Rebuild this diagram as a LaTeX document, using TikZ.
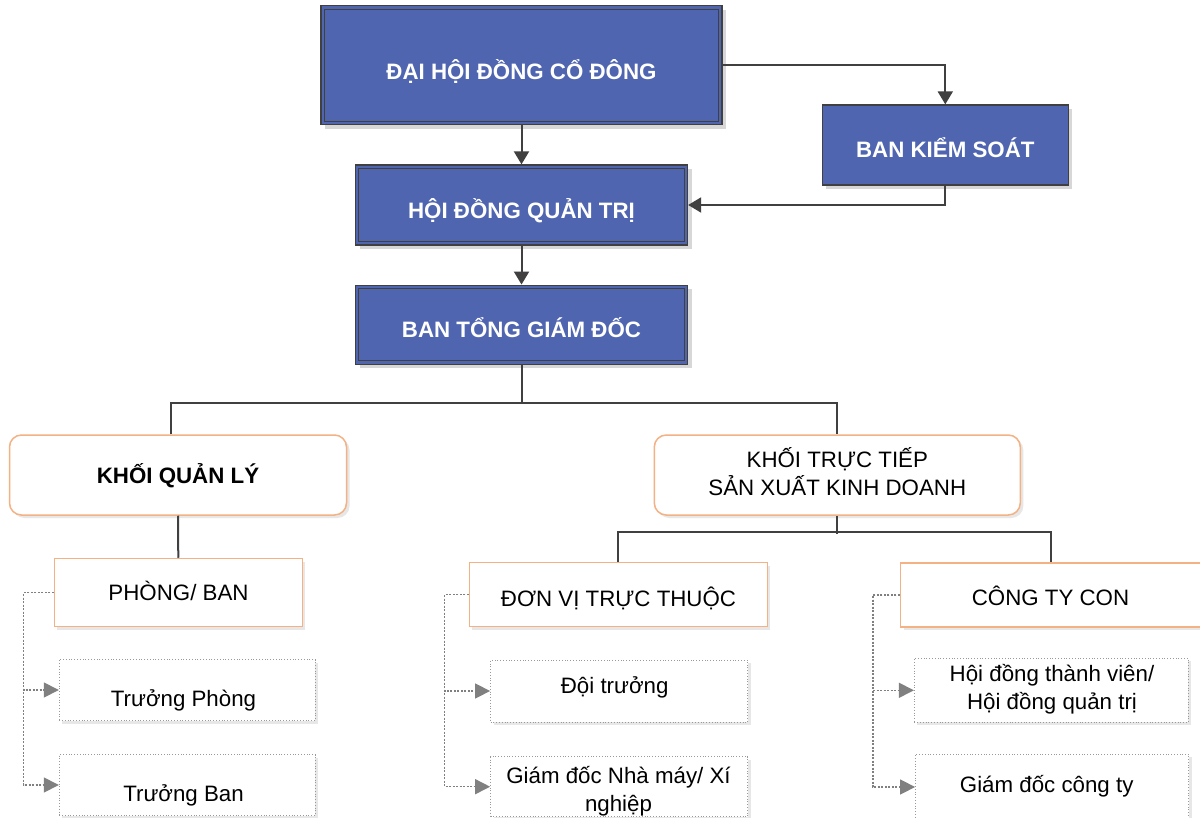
\documentclass[tikz,border=0pt]{standalone}
\usepackage{fontspec}
\setmainfont{Liberation Sans}
\usetikzlibrary{arrows.meta,shadows}
\definecolor{bluefill}{RGB}{79,101,176}
\definecolor{darkline}{RGB}{64,64,64}
\definecolor{orangeline}{RGB}{244,177,131}
\definecolor{dotgray}{RGB}{128,128,128}
\definecolor{shadowgray}{RGB}{215,215,215}
\begin{document}
\begin{tikzpicture}[x=1pt,y=-1pt,
  font=\fontsize{22.3}{27.8}\selectfont,
  bshadow/.style={drop shadow={shadow xshift=4pt,shadow yshift=-4pt,fill=shadowgray,opacity=1}},
  lshadow/.style={drop shadow={shadow xshift=3pt,shadow yshift=-3pt,fill=shadowgray!60,opacity=1}},
  bluebox/.style={draw=darkline,line width=1.3pt,fill=bluefill,bshadow,inner sep=0pt},
  orangebox/.style={draw=orangeline,line width=1.5pt,fill=white,lshadow,inner sep=0pt},
  roundbox/.style={orangebox,rounded corners=12pt},
  dotbox/.style={draw=dotgray!80,dotted,line width=0.8pt,fill=white,lshadow,inner sep=0pt},
  innerframe/.style={draw=darkline,line width=1.1pt},
  lbl/.style={inner sep=0pt,anchor=base},
  wlbl/.style={lbl,text=white,font=\fontsize{22.3}{27.8}\selectfont\bfseries},
  mlbl/.style={lbl,align=center},
  arr/.style={draw=darkline,line width=2pt,-{Triangle[length=13pt,width=15pt]}},
  link/.style={draw=darkline,line width=2pt},
  dotarr/.style={draw=dotgray,line width=1.5pt,dash pattern=on 2pt off 1.5pt,-{Triangle[length=15pt,width=15pt]}},
]
\clip (0,0) rectangle (1200,818);
\fill[white] (0,0) rectangle (1200,818);

% blue boxes
\node[bluebox,minimum width=401pt,minimum height=119pt] (dh) at (521.5,65.3) {};
\node[bluebox,minimum width=246pt,minimum height=80pt] (bks) at (945.3,145) {};
\node[bluebox,minimum width=332pt,minimum height=80pt] (hd) at (521.5,205) {};
\node[bluebox,minimum width=332pt,minimum height=79pt] (bt) at (521.5,324.7) {};
\foreach \n in {dh,hd,bt}{
  \draw[innerframe] ([shift={(4,4)}]\n.north west) rectangle ([shift={(-4,-4)}]\n.south east);
}
\node[wlbl] (dh-t) at (521.5,80) {ĐẠI HỘI ĐỒNG CỔ ĐÔNG};
\node[wlbl] (bks-t) at (945.3,158) {BAN KIỂM SOÁT};
\node[wlbl] (hd-t) at (521.5,219) {HỘI ĐỒNG QUẢN TRỊ};
\node[wlbl] (bt-t) at (521.5,337.7) {BAN TỔNG GIÁM ĐỐC};

% level 2
\node[roundbox,minimum width=337pt,minimum height=80pt] (kql) at (178,475) {};
\node[roundbox,minimum width=366pt,minimum height=80pt] (ktt) at (837.3,475) {};
\node[lbl,font=\fontsize{22.3}{27.8}\selectfont\bfseries] (kql-t) at (178,483.3) {KHỐI QUẢN LÝ};
\node[mlbl] (ktt-t) at (837.3,495) {KHỐI TRỰC TIẾP\\SẢN XUẤT KINH DOANH};

% level 3
\node[orangebox,minimum width=248pt,minimum height=68pt] (pb) at (178.3,592.5) {};
\node[orangebox,minimum width=298pt,minimum height=64pt] (dv) at (618.3,594.7) {};
\node[orangebox,minimum width=310pt,minimum height=64pt] (ctc) at (1055.7,595) {};
\node[lbl] (pb-t) at (178.5,600) {PHÒNG/ BAN};
\node[lbl] (dv-t) at (618.5,606) {ĐƠN VỊ TRỰC THUỘC};
\node[lbl] (ctc-t) at (1050.5,605.7) {CÔNG TY CON};

% level 4
\node[dotbox,minimum width=256pt,minimum height=61pt] (tp) at (187.2,690) {};
\node[dotbox,minimum width=256pt,minimum height=61pt] (tb) at (187.2,785) {};
\node[dotbox,minimum width=257pt,minimum height=62pt] (dt) at (619,691) {};
\node[dotbox,minimum width=257pt,minimum height=60pt] (gn) at (619,786.7) {};
\node[dotbox,minimum width=274pt,minimum height=64pt] (tv) at (1051.3,690.3) {};
\node[dotbox,minimum width=273pt,minimum height=66pt] (gc) at (1052,787) {};
\node[lbl] (tp-t) at (183.5,706.7) {Trưởng Phòng};
\node[lbl] (tb-t) at (183.5,801.7) {Trưởng Ban};
\node[lbl] (dt-t) at (614.7,693.3) {Đội trưởng};
\node[mlbl] (gn-t) at (618.5,811) {Giám đốc Nhà máy/ Xí\\nghiệp};
\node[mlbl] (tv-t) at (1052,709) {Hội đồng thành viên/\\Hội đồng quản trị};
\node[lbl] (gc-t) at (1046.7,792.3) {Giám đốc công ty};

% connectors
\draw[arr] (dh.south) -- (hd.north);
\draw[arr] (dh.east) -| (bks.north);
\draw[arr] (bks.south) |- (hd.east);
\draw[arr] (hd.south) -- (bt.north);
\draw[link] (bt.south) -- ++(0,39.5);
\draw[link] ([xshift=-7]kql.north) -- ++(0,-31) -| (ktt.north);
\draw[link] (kql.south) -- (pb.north);
\draw[link] (ktt.south) -- ++(0,18);
\draw[link] (dv.north) -- ++(0,-29.5) -| ([xshift=-5]ctc.north);

\draw[dotarr] (pb.west) -- ++(-30,0) |- (tp.west);
\draw[dotarr] (pb.west) -- ++(-30,0) |- (tb.west);
\draw[dotarr] (dv.west) -- ++(-24,0) |- (dt.west);
\draw[dotarr] (dv.west) -- ++(-24,0) |- (gn.west);
\draw[dotarr] (ctc.west) -- ++(-27,0) |- (tv.west);
\draw[dotarr] (ctc.west) -- ++(-27,0) |- (gc.west);
\end{tikzpicture}
\end{document}
